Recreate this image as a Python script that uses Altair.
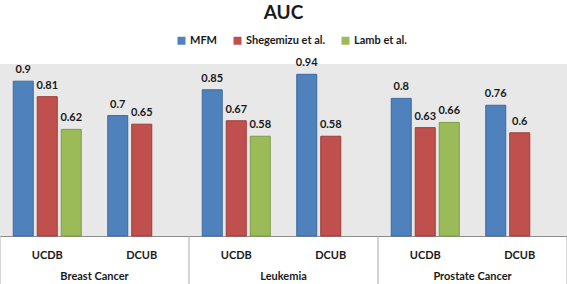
import altair as alt
import pandas as pd

groups = ["Breast Cancer", "Leukemia", "Prostate Cancer"]
subsets = ["UCDB", "DCUB"]
methods = ["MFM", "Shegemizu et al.", "Lamb et al."]
# values per (group, subset) in order: BC-UCDB, BC-DCUB, LK-UCDB, LK-DCUB, PC-UCDB, PC-DCUB
mfm = [0.9, 0.7, 0.85, 0.94, 0.8, 0.76]
shegemizu = [0.81, 0.65, 0.67, 0.58, 0.63, 0.6]
lamb = [0.62, None, 0.58, None, 0.66, None]
colors = ["#4F81BD", "#C0504D", "#9BBB59"]
strokes = ["#3B6A9F", "#9E3C39", "#7E9C45"]

keys = [f"{g}|{s}" for g in groups for s in subsets]
rows = []
for i, k in enumerate(keys):
    for m, vals in zip(methods, [mfm, shegemizu, lamb]):
        if vals[i] is not None:
            rows.append({"key": k, "method": m, "value": vals[i]})
df = pd.DataFrame(rows)

grp_df = pd.DataFrame({"group": groups, "key": [f"{g}|UCDB" for g in groups]})
last_df = pd.DataFrame({"key": [f"{groups[-1]}|DCUB"]})

FONT = "Lato"
W, H = 567, 172

xscale = alt.Scale(domain=keys, paddingInner=0, paddingOuter=0)
xoff = alt.XOffset("method:N", sort=methods,
                   scale=alt.Scale(domain=methods, paddingInner=1/6, paddingOuter=0.552))
yscale = alt.Scale(domain=[0, 1])

bars = alt.Chart(df).mark_bar(strokeWidth=1).encode(
    x=alt.X("key:N", sort=keys, scale=xscale, title=None,
            axis=alt.Axis(labelExpr="split(datum.label, '|')[1]", labelAngle=0,
                          ticks=False, grid=False, domainColor="#8c8c8c",
                          labelPadding=13, labelFont=FONT, labelFontSize=11,
                          labelFontWeight="bold", labelColor="#1a1a1a")),
    xOffset=xoff,
    y=alt.Y("value:Q", scale=yscale, axis=None),
    color=alt.Color("method:N", sort=methods,
                    scale=alt.Scale(domain=methods, range=colors),
                    legend=alt.Legend(title=None, orient="none", direction="horizontal",
                                      legendX=176, legendY=-29, symbolType="square",
                                      symbolSize=64, symbolStrokeWidth=0,
                                      labelFont=FONT, labelFontSize=11,
                                      labelFontWeight="bold", labelColor="#1a1a1a",
                                      labelOffset=3, columnPadding=14)),
    stroke=alt.Stroke("method:N", sort=methods,
                      scale=alt.Scale(domain=methods, range=strokes), legend=None),
)

labels = alt.Chart(df).mark_text(dy=-8, baseline="alphabetic", font=FONT, fontSize=11,
                                 fontWeight="bold", color="#1a1a1a").encode(
    x=alt.X("key:N", sort=keys, scale=xscale),
    xOffset=xoff,
    y=alt.Y("value:Q", scale=yscale),
    text=alt.Text("value:Q"),
)

group_text = alt.Chart(grp_df).mark_text(font=FONT, fontSize=11, fontWeight="bold",
                                         color="#1a1a1a", baseline="middle").encode(
    x=alt.X("key:N", sort=keys, scale=xscale, bandPosition=1),
    y=alt.value(H + 41),
    text="group:N",
)

seps = alt.Chart(grp_df).mark_rule(color="#ababab", strokeWidth=1).encode(
    x=alt.X("key:N", sort=keys, scale=xscale, bandPosition=0),
    y=alt.value(H),
    y2=alt.value(H + 48),
)
sep_last = alt.Chart(last_df).mark_rule(color="#ababab", strokeWidth=1).encode(
    x=alt.X("key:N", sort=keys, scale=xscale, bandPosition=1),
    y=alt.value(H),
    y2=alt.value(H + 48),
)

chart = alt.layer(bars, labels, seps, sep_last, group_text).properties(
    width=W, height=H,
    autosize="none",
    padding={"left": 0, "top": 64, "right": 0, "bottom": 48},
    title=alt.TitleParams("AUC", font=FONT, fontSize=19, fontWeight="bold",
                          color="#1a1a1a", anchor="middle", frame="group", offset=12),
).configure_view(fill="#e8e8e8", stroke=None)

chart.save("out.html", embed_options={"renderer": "svg", "actions": False})
